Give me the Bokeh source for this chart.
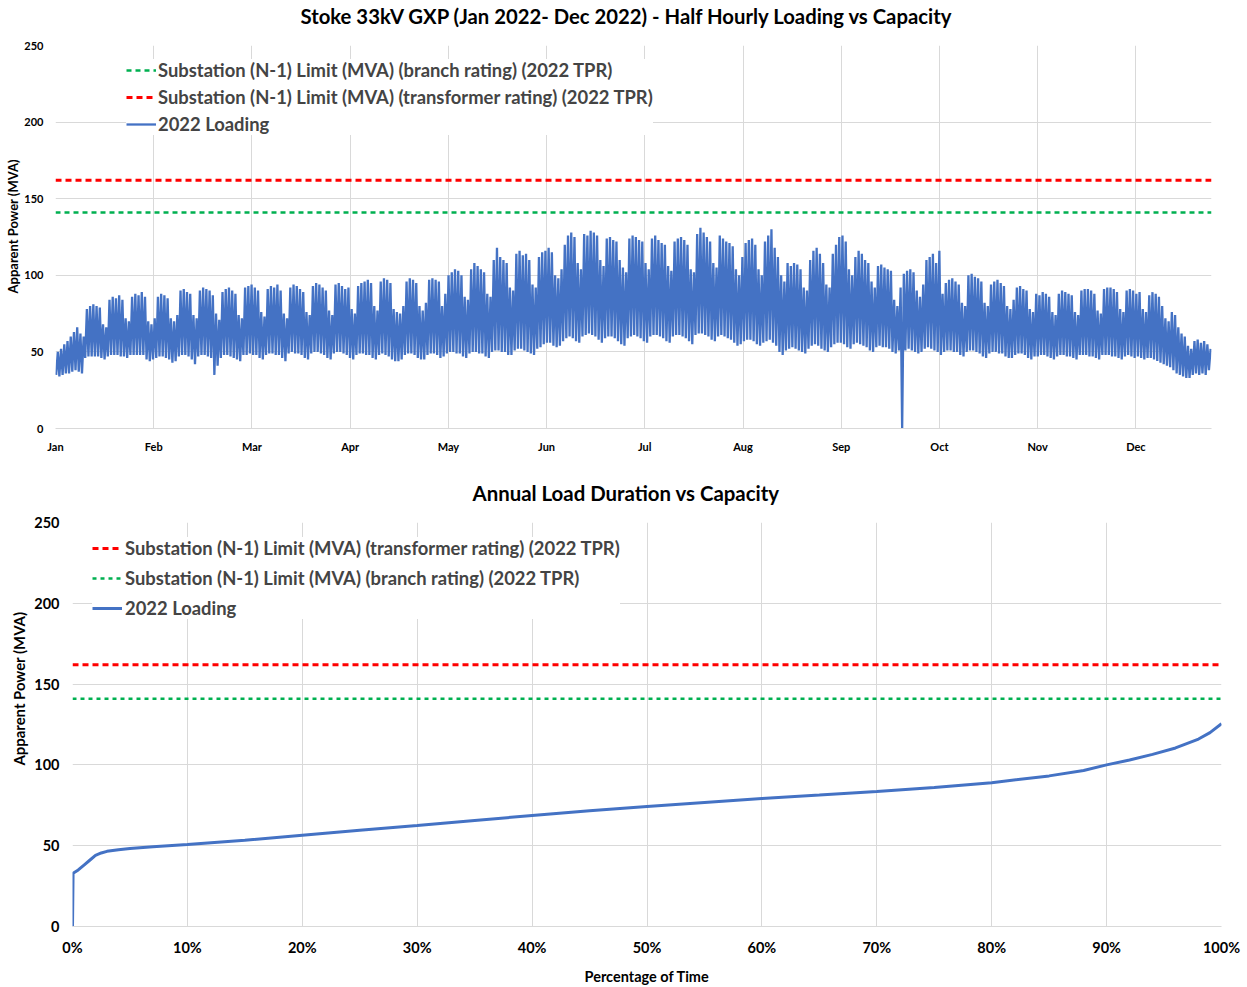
from bokeh.plotting import figure
from bokeh.models import FixedTicker, Legend, LegendItem, NumeralTickFormatter, Range1d, Title
from bokeh.layouts import column, row
from bokeh.embed import file_html
from bokeh.resources import INLINE

FONT = "Lato"
GRID = "#d9d9d9"
BLUE = "#4472C4"
RED = "#FF0000"
GREEN = "#00B050"

# ---------------- data ----------------
months = ["Jan", "Feb", "Mar", "Apr", "May", "Jun", "Jul", "Aug", "Sep", "Oct", "Nov", "Dec"]
limit_branch = 141      # Substation (N-1) Limit (MVA) (branch rating) (2022 TPR)
limit_transformer = 162  # Substation (N-1) Limit (MVA) (transformer rating) (2022 TPR)

# daily peak / trough of the half-hourly loading (MVA), 1 Jan .. 24 Dec 2022
max_jan = [50, 52, 55, 57, 60, 63, 66, 62, 60, 78, 80, 81, 80, 79, 68, 66, 84, 86, 85, 87, 84, 72, 70, 86, 88, 87, 89, 86, 70, 68, 72]
min_jan = [35, 34, 35, 36, 36, 37, 38, 37, 36, 46, 47, 47, 47, 47, 46, 45, 47, 48, 48, 48, 47, 47, 46, 48, 48, 48, 48, 48, 45, 44, 45]
max_feb = [86, 88, 87, 85, 72, 70, 74, 90, 91, 89, 88, 74, 72, 90, 92, 91, 90, 87, 75, 71, 89, 91, 92, 90, 88, 74, 72, 92]
min_feb = [46, 47, 47, 46, 45, 43, 44, 47, 48, 48, 47, 45, 42, 47, 48, 48, 47, 46, 35, 41, 46, 48, 48, 47, 46, 45, 44, 48]
max_mar = [93, 94, 92, 90, 76, 73, 91, 93, 92, 94, 90, 75, 72, 92, 94, 93, 91, 89, 76, 74, 93, 95, 94, 92, 90, 77, 74, 94, 95, 93, 91]
min_mar = [48, 49, 48, 48, 46, 45, 48, 49, 49, 48, 48, 46, 44, 49, 50, 49, 49, 48, 46, 45, 49, 50, 50, 49, 48, 46, 45, 49, 50, 50, 49]
max_apr = [92, 78, 75, 93, 95, 96, 97, 95, 80, 77, 96, 98, 97, 95, 78, 76, 75, 80, 96, 98, 97, 95, 80, 77, 82, 97, 98, 97, 96, 80]
min_apr = [48, 46, 45, 48, 49, 49, 48, 48, 46, 45, 48, 49, 48, 47, 45, 44, 44, 45, 48, 49, 49, 48, 46, 45, 45, 48, 49, 49, 48, 46]
max_may = [88, 100, 102, 104, 103, 100, 86, 84, 104, 108, 106, 104, 102, 88, 86, 110, 118, 112, 110, 108, 92, 90, 114, 116, 113, 114, 110, 94, 92, 112, 115]
min_may = [47, 49, 50, 50, 49, 49, 47, 46, 49, 50, 50, 49, 49, 47, 46, 50, 51, 51, 50, 50, 48, 48, 51, 52, 52, 51, 50, 49, 48, 52, 53]
max_jun = [116, 118, 115, 100, 98, 104, 120, 126, 128, 125, 108, 104, 127, 126, 129, 128, 126, 110, 106, 124, 125, 123, 122, 110, 105, 102, 124, 126, 125, 123]
min_jun = [55, 56, 56, 54, 53, 54, 57, 59, 60, 59, 57, 56, 60, 61, 62, 61, 60, 58, 56, 59, 60, 60, 59, 57, 55, 54, 59, 60, 61, 60]
max_jul = [122, 108, 104, 124, 126, 123, 121, 120, 106, 103, 122, 124, 125, 123, 120, 104, 102, 127, 131, 128, 125, 122, 108, 105, 126, 124, 122, 121, 119, 104, 100]
min_jul = [59, 57, 56, 60, 61, 61, 60, 59, 57, 56, 60, 61, 61, 60, 59, 57, 55, 61, 62, 62, 61, 60, 58, 57, 60, 61, 60, 59, 58, 56, 54]
max_aug = [112, 121, 123, 124, 120, 104, 100, 122, 126, 130, 118, 112, 100, 96, 108, 106, 108, 107, 104, 92, 90, 110, 116, 118, 114, 108, 94, 92, 114, 120, 125]
min_aug = [55, 57, 58, 58, 57, 55, 54, 56, 57, 58, 56, 54, 50, 48, 51, 52, 53, 52, 51, 50, 49, 52, 54, 55, 54, 52, 51, 50, 53, 55, 56]
max_sep = [126, 122, 104, 100, 112, 116, 114, 110, 108, 96, 92, 106, 107, 105, 104, 103, 84, 80, 92, 101, 103, 104, 102, 90, 86, 94, 110, 112, 114, 108]
min_sep = [56, 55, 53, 52, 55, 56, 55, 54, 53, 51, 50, 53, 54, 53, 53, 52, 50, 49, 51, 0, 51, 52, 51, 50, 49, 50, 52, 53, 52, 51]
max_oct = [116, 88, 95, 97, 98, 96, 94, 82, 80, 100, 101, 99, 98, 96, 82, 80, 94, 96, 97, 95, 93, 80, 78, 84, 92, 93, 91, 90, 78, 76, 88]
min_oct = [50, 48, 50, 51, 51, 50, 50, 48, 47, 50, 51, 51, 50, 49, 47, 46, 49, 50, 50, 49, 49, 47, 46, 46, 48, 49, 49, 48, 46, 45, 47]
max_nov = [87, 89, 88, 86, 76, 74, 88, 90, 89, 88, 87, 76, 74, 90, 91, 91, 90, 88, 77, 75, 91, 92, 92, 91, 89, 78, 76, 90, 91, 90]
min_nov = [47, 48, 48, 47, 46, 45, 47, 48, 48, 47, 47, 46, 45, 48, 48, 48, 47, 47, 46, 45, 48, 48, 48, 47, 47, 46, 45, 47, 48, 47]
max_dec = [88, 89, 78, 76, 87, 89, 88, 86, 80, 72, 70, 76, 74, 66, 62, 60, 54, 52, 57, 58, 56, 57, 55, 52]
min_dec = [46, 47, 46, 45, 46, 46, 45, 44, 43, 42, 41, 40, 38, 36, 35, 34, 33, 33, 35, 36, 35, 36, 35, 38]

# annual load duration curve (fraction of time, MVA)
dur_time = [0.0, 0.0005, 0.005, 0.01, 0.015, 0.02, 0.025, 0.03, 0.04, 0.05, 0.07, 0.10, 0.15, 0.20, 0.25,
            0.30, 0.35, 0.40, 0.45, 0.50, 0.55, 0.60, 0.65, 0.70, 0.75, 0.80, 0.85, 0.88, 0.90, 0.92,
            0.94, 0.96, 0.98, 0.99, 1.0]
dur_mva = [0, 33, 35, 38, 41, 44, 45.5, 46.5, 47.5, 48.2, 49.3, 50.7, 53.3, 56.5, 59.5,
           62.5, 65.6, 68.7, 71.6, 74.3, 76.8, 79.2, 81.3, 83.5, 86.0, 89.0, 93.2, 96.5, 100.0, 103.0,
           106.5, 110.5, 116.0, 120.0, 125.5]

daily_max = max_jan + max_feb + max_mar + max_apr + max_may + max_jun + max_jul + max_aug + max_sep + max_oct + max_nov + max_dec
daily_min = min_jan + min_feb + min_mar + min_apr + min_may + min_jun + min_jul + min_aug + min_sep + min_oct + min_nov + min_dec

DAYS_PER_LABEL = 365 / 12
load_x, load_y = [], []
for i, (lo, hi) in enumerate(zip(daily_min, daily_max)):
    load_x += [(i + 0.2) / DAYS_PER_LABEL, (i + 0.72) / DAYS_PER_LABEL]
    load_y += [lo, hi]
x_end = len(daily_max) / DAYS_PER_LABEL


def style(p, tick_size):
    p.outline_line_color = None
    p.background_fill_color = "white"
    p.border_fill_color = "white"
    for ax in (p.xaxis[0], p.yaxis[0]):
        ax.major_tick_line_color = None
        ax.minor_tick_line_color = None
        ax.major_tick_out = 0
        ax.major_tick_in = 0
        ax.minor_tick_out = 0
        ax.minor_tick_in = 0
        ax.major_label_text_font = FONT
        ax.major_label_text_font_style = "bold"
        ax.major_label_text_font_size = tick_size
        ax.major_label_text_color = "black"
        ax.axis_label_text_font = FONT
        ax.axis_label_text_font_style = "bold"
        ax.axis_label_text_color = "black"
    p.yaxis.axis_line_color = None
    p.xaxis.axis_line_color = GRID
    p.xgrid.grid_line_color = GRID
    p.ygrid.grid_line_color = GRID
    p.yaxis.ticker = FixedTicker(ticks=[0, 50, 100, 150, 200, 250])


def add_title(p, text, size, offset, gap):
    # spacer first (sits next to the frame), then the title above it
    spacer = Title(text=" ", standoff=gap, text_font_size="1px")
    p.add_layout(spacer, "above")
    t = Title(text=text, align="left", offset=offset, standoff=0, text_font=FONT,
              text_font_style="bold", text_font_size=size, text_color="black")
    p.add_layout(t, "above")


def ylabel(p, size, offset, standoff):
    t = Title(text="Apparent Power (MVA)", align="left", offset=offset, standoff=standoff,
              text_font=FONT, text_font_style="bold", text_font_size=size, text_color="black")
    p.add_layout(t, "left")


# ---------------- top: half hourly loading ----------------
p1 = figure(width=1247, height=470, output_backend="svg", toolbar_location=None,
            x_range=Range1d(0, x_end), y_range=Range1d(0, 250),
            min_border_left=55, min_border_right=36, min_border_top=45, min_border_bottom=42)
style(p1, "11px")
add_title(p1, "Stoke 33kV GXP (Jan 2022- Dec 2022) - Half Hourly Loading vs Capacity", "20.3px", 245, 15)
ylabel(p1, "13px", 135, 1)
p1.yaxis.major_label_standoff = 12
p1.xaxis.major_label_standoff = 11
p1.xaxis.ticker = FixedTicker(ticks=list(range(12)))
p1.xaxis.major_label_overrides = {i: m for i, m in enumerate(months)}

r_load1 = p1.line(load_x, load_y, line_color=BLUE, line_width=2.3)
r_green1 = p1.line([0, x_end], [limit_branch, limit_branch], line_color=GREEN, line_width=2.5, line_dash="5 4")
r_red1 = p1.line([0, x_end], [limit_transformer, limit_transformer], line_color=RED, line_width=3, line_dash="6 4")

leg1 = Legend(items=[
    LegendItem(label="Substation (N-1) Limit (MVA) (branch rating) (2022 TPR)", renderers=[r_green1]),
    LegendItem(label="Substation (N-1) Limit (MVA) (transformer rating) (2022 TPR)", renderers=[r_red1]),
    LegendItem(label="2022 Loading", renderers=[r_load1]),
], location=(71, 293), glyph_width=30, glyph_height=22, label_height=22, spacing=5, padding=5,
    label_standoff=2, label_text_font=FONT, label_text_font_style="bold", label_text_font_size="18.4px",
    border_line_color=None, background_fill_color="white", background_fill_alpha=1.0)
p1.add_layout(leg1)

# ---------------- bottom: load duration ----------------
p2 = figure(width=1247, height=517, output_backend="svg", toolbar_location=None,
            x_range=Range1d(0, 1), y_range=Range1d(0, 250),
            min_border_left=72, min_border_right=26, min_border_top=52, min_border_bottom=61)
style(p2, "14.5px")
add_title(p2, "Annual Load Duration vs Capacity", "20.4px", 400, 15)
ylabel(p2, "14.9px", 161, 8)
p2.xaxis.axis_label = "Percentage of Time"
p2.xaxis.axis_label_text_font_size = "14.5px"
p2.yaxis.major_label_standoff = 13
p2.xaxis.major_label_standoff = 12
p2.xaxis.axis_label_standoff = 9
p2.xaxis.ticker = FixedTicker(ticks=[i / 10 for i in range(11)])
p2.xaxis.formatter = NumeralTickFormatter(format="0%")

r_red2 = p2.line([0, 1], [limit_transformer, limit_transformer], line_color=RED, line_width=3, line_dash="6 4")
r_green2 = p2.line([0, 1], [limit_branch, limit_branch], line_color=GREEN, line_width=2.5, line_dash="4 4")
r_load2 = p2.line(dur_time, dur_mva, line_color=BLUE, line_width=3)

leg2 = Legend(items=[
    LegendItem(label="Substation (N-1) Limit (MVA) (transformer rating) (2022 TPR)", renderers=[r_red2]),
    LegendItem(label="Substation (N-1) Limit (MVA) (branch rating) (2022 TPR)", renderers=[r_green2]),
    LegendItem(label="2022 Loading", renderers=[r_load2]),
], location=(20, 307), glyph_width=30, glyph_height=22, label_height=22, spacing=8, padding=5,
    label_standoff=3, label_text_font=FONT, label_text_font_style="bold", label_text_font_size="18.4px",
    border_line_color=None, background_fill_color="white", background_fill_alpha=1.0)
p2.add_layout(leg2)

layout = column(row(p1), row(p2), spacing=0)
open("out.html", "w").write(file_html(layout, INLINE))
